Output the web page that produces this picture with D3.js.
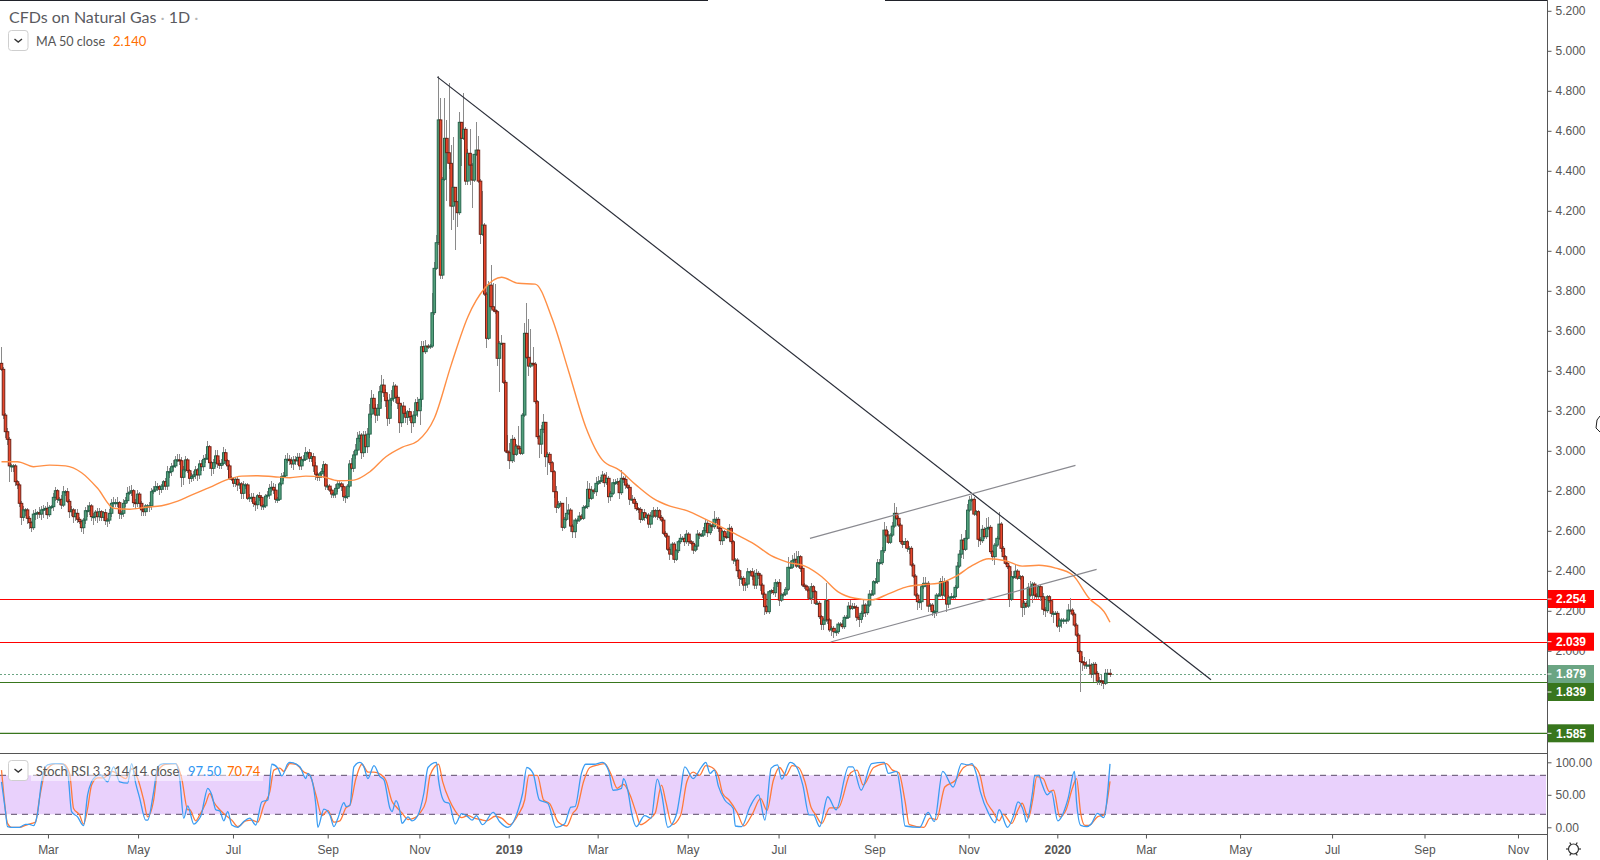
<!DOCTYPE html>
<html><head><meta charset="utf-8">
<style>
html,body{margin:0;padding:0;background:#fff;overflow:hidden}
svg{display:block}
text{font-family:"Liberation Sans",Arial,sans-serif}
.tv{font-family:"Lato","Open Sans",sans-serif}
</style>
<script src="https://cdn.jsdelivr.net/npm/d3@7"></script>
</head><body><svg id="c" width="1600" height="860"></svg>
<script>
// ---------- DATA ----------
const firstOpen = 3.435;
const closesA = [
3.405,3.176,3.093,3.055,2.922,2.922,2.922,2.843,2.827,2.735,
2.665,2.702,2.702,2.660,2.638,2.613,2.681,2.685,2.688,2.681,
2.702,2.705,2.710,2.678,2.715,2.718,2.765,2.798,2.755,2.755,
2.726,2.793,2.793,2.745,2.693,2.702,2.668,2.685,2.655,2.643,
2.613,2.651,2.698,2.698,2.722,2.668,2.668,2.691,2.668,2.693,
2.665,2.688,2.648,2.651,2.685,2.735,2.738,2.738,2.738,2.685,
2.685,2.735,2.748,2.785,2.791,2.798,2.738,2.735,2.781,2.735,
2.702,2.693,2.722,2.722,2.722,2.793,2.801,2.818,2.818,2.805,
2.821,2.843,2.821,2.893,2.893,2.918,2.922,2.952,2.952,2.948,
2.865,2.902,2.952,2.898,2.860,2.868,2.877,2.902,2.877,2.932,
2.918,2.955,2.960,3.018,2.938,2.910,2.938,2.972,2.932,2.925,
2.935,2.988,2.948,2.922,2.860,2.855,2.835,2.855,2.827,2.832,
2.785,2.827,2.827,2.760,2.763,2.765,2.735,2.728,2.773,2.765,
2.722,2.722,2.771,2.776,2.810,2.815,2.801,2.755,2.755,2.832,
2.868,2.872,2.955,2.955,2.948,2.932,2.952,2.948,2.965,2.922,
2.952,2.955,2.988,2.988,2.960,2.968,2.922,2.880,2.865,2.882,
2.893,2.928,2.821,2.821,2.801,2.781,2.781,2.810,2.832,2.832,
2.818,2.768,2.768,2.821,2.932,2.910,2.977,3.001,3.060,3.076,
2.988,3.076,3.018,3.081,3.181,3.260,3.210,3.176,3.210,3.293,
3.326,3.288,3.248,3.160,3.251,3.260,3.321,3.265,3.235,3.138,
3.221,3.185,3.165,3.193,3.168,3.138,3.176,3.238,3.198,3.255];
const upperA = [
8,1,1,2,1,1,1,1,1,1, 1,2,1,1,1,1,2,2,1,3, 2,2,1,3,1,1,2,2,1,1, 2,3,1,2,1,2,1,2,2,1,
1,1,2,3,2,1,2,1,2,2, 1,1,2,1,2,2,3,2,3,1, 1,2,2,3,3,3,1,2,2,1, 1,1,1,1,2,2,2,3,2,1,
1,1,2,3,2,2,3,2,3,3, 2,2,2,1,1,2,2,2,1,2, 2,2,2,3,1,1,2,3,3,2, 2,3,2,1,1,1,1,1,1,1,
1,2,1,1,2,2,2,1,1,2, 1,1,1,2,2,3,2,3,1,1, 2,2,2,3,2,2,2,2,2,2, 2,2,3,1,2,2,2,2,1,1,
2,2,1,1,1,1,1,2,2,2, 1,1,1,1,2,3,2,3,3,2, 1,2,2,3,5,4,2,2,2,3, 5,3,2,2,3,4,2,1,1,2,
1,2,2,1,2,1,2,2,3,3];
const lowerA = [
1,2,3,3,8,3,3,2,2,2, 4,2,3,3,3,2,1,3,3,2, 3,4,3,2,1,1,2,2,2,3, 2,1,2,1,3,2,3,2,2,1,
2,3,2,3,2,2,4,2,3,2, 2,2,2,3,2,2,2,2,2,3, 3,2,2,1,1,2,2,3,2,3, 3,2,2,3,3,2,1,1,2,3,
2,2,2,2,3,2,2,1,1,2, 5,4,1,1,3,2,2,2,3,2, 2,2,2,1,3,4,3,2,2,2, 2,1,2,2,1,1,2,2,3,2,
3,3,2,1,2,2,2,3,2,2, 2,2,1,1,2,2,2,2,2,1, 1,2,1,2,2,2,3,2,2,2, 2,1,1,2,2,2,3,3,2,2,
2,3,2,2,1,2,2,2,2,2, 2,2,3,1,1,1,2,2,2,2, 3,2,3,3,2,2,3,4,3,4, 5,2,3,4,3,3,2,3,3,5,
2,3,3,4,2,5,2,2,3,7];
const closesB = [
3.518,3.493,3.521,3.518,3.521,3.688,3.910,4.038,4.652,3.876,
4.355,4.560,4.488,4.435,4.221,4.315,4.243,4.188,4.640,4.560,
4.605,4.346,4.485,4.426,4.351,4.480,4.501,4.346,4.080,4.126,
3.781,3.560,3.826,3.718,3.701,3.693,3.460,3.535,3.535,3.340,
2.996,2.988,2.948,3.055,2.980,3.021,3.010,2.985,3.176,3.585,
3.465,3.421,3.435,3.431,3.243,3.068,3.031,3.105,3.140,2.968,
2.980,2.938,2.893];
const upperB = [
3,3,3,1,1,10,3,4,22,11, 1,20,9,35,9,25,0,0,5,0, 18,1,2,12,1,0,14,7,1,17,
1,1,2,10,12,13,1,1,4,0, 1,8,5,2,1,1,10,1,1,5, 15,19,17,8,1,1,1,2,4,0, 1,1,1];
const lowerB = [
4,0,1,1,1,1,1,1,1,2, 2,1,24,3,12,7,24,7,1,14, 1,2,2,10,14,1,1,1,5,1,
1,5,1,1,1,1,4,17,1,1, 1,4,4,1,4,1,1,1,1,1, 1,5,1,1,1,1,7,5,2,5, 9,1,4];
const closesC = [
2.793,2.715,2.727,2.735,2.615,2.655,2.685,2.701,2.621,2.593,
2.651,2.651,2.671,2.660,2.715,2.718,2.805,2.760,2.801,2.793,
2.835,2.843,2.848,2.876,2.838,2.860,2.768,2.785,2.838,2.838,
2.843,2.788,2.860,2.855,2.826,2.815,2.755,2.755,2.735,2.708,
2.705,2.655,2.688,2.665,2.676,2.631,2.671,2.698,2.671,2.698,
2.665,2.651,2.585,2.571,2.505,2.481,2.531,2.455,2.498,2.543,
2.560,2.560,2.543,2.581,2.543,2.535,2.501,2.521,2.581,2.576,
2.576,2.598,2.635,2.588,2.626,2.618,2.655,2.655,2.610,2.548,
2.593,2.568,2.565,2.610,2.543,2.451,2.451,2.398,2.360,2.360,
2.326,2.331,2.393,2.393,2.371,2.326,2.385,2.376,2.326,2.281,
2.218,2.193,2.293,2.298,2.288,2.338,2.338,2.251,2.276,2.281,
2.305,2.415,2.415,2.448,2.455,2.421,2.468,2.410,2.326,2.318,
2.301,2.260,2.318,2.293,2.235,2.235,2.168,2.130,2.151,2.248];
const upperC = [
1,3,2,1,0,1,8,3,1,1, 1,1,2,1,1,1,4,3,2,1, 3,3,2,2,1,3,1,1,2,2, 2,1,4,1,2,1,1,2,1,1,
1,1,2,2,1,1,2,2,1,2, 1,1,1,1,1,1,1,1,1,1, 2,1,2,2,1,1,1,1,2,1, 1,2,2,1,1,1,4,1,1,1,
1,1,2,2,1,1,1,1,1,1, 1,1,2,1,2,3,2,1,1,1, 1,1,1,1,2,2,1,2,1,1, 1,5,3,3,3,4,3,1,1,1,
1,1,2,1,1,1,1,1,1,9];
const lowerC = [
3,3,1,1,2,1,1,1,3,3, 3,2,1,1,1,1,1,2,1,1, 2,1,1,1,2,1,3,2,1,1, 1,3,1,2,2,1,3,2,2,1,
2,2,1,2,1,2,2,1,1,2, 1,1,1,1,1,3,1,2,1,1, 1,1,2,1,2,1,2,1,2,2, 1,1,1,2,1,2,1,2,2,2,
2,2,1,2,1,2,3,3,4,3, 3,3,2,2,2,2,2,2,3,2, 4,1,1,1,1,2,2,3,1,1, 1,1,1,1,1,1,1,2,1,1,
1,1,3,3,1,1,1,3,3,1];
const closesD = [
2.152,2.102,2.110,2.093,2.093,2.131,2.131,2.118,2.165,2.165,
2.221,2.210,2.218,2.215,2.165,2.155,2.185,2.226,2.188,2.226,
2.281,2.281,2.343,2.343,2.438,2.438,2.498,2.601,2.576,2.540,
2.576,2.621,2.685,2.660,2.626,2.543,2.530,2.543,2.510,2.510,
2.426,2.371,2.276,2.243,2.243,2.318,2.335,2.335,2.221,2.226,
2.193,2.193,2.276,2.276,2.343,2.276,2.343,2.231,2.265,2.268,
2.268,2.315,2.421,2.481,2.551,2.505,2.560,2.701,2.751,2.755,
2.681,2.693,2.555,2.548,2.605,2.568,2.610,2.615,2.493,2.468,
2.526,2.560,2.631,2.510,2.468,2.435,2.418,2.255,2.368,2.368,
2.396,2.360,2.368,2.215,2.235,2.221,2.315,2.276,2.331,2.276,
2.268,2.318,2.268,2.205,2.198,2.268,2.248,2.185,2.185,2.185,
2.121,2.151,2.151,2.151,2.151,2.201,2.201,2.181,2.126,2.076,
1.993,1.943,1.938,1.926,1.926,1.926,1.881,1.930,1.885,1.846,
1.848,1.843,1.835,1.885,1.885,1.879];
const upperD = [
1,1,1,1,1,1,1,2,1,1, 2,3,2,2,1,1,1,3,1,2, 2,2,1,2,2,2,2,4,2,2, 1,2,5,3,1,1,1,2,1,1,
1,1,1,1,1,1,3,3,1,1, 1,1,1,1,2,3,2,1,1,2, 1,1,2,2,3,1,4,3,2,2, 1,1,1,1,2,1,5,5,1,1,
1,1,6,1,1,1,1,1,3,3, 3,1,1,1,1,1,2,3,1,1, 1,1,1,2,1,1,1,1,1,1, 1,1,1,1,1,3,6,1,1,1,
1,1,3,3,2,3,1,1,1,1, 2,3,1,2,2,2];
const lowerD = [
2,1,3,3,2,1,1,1,1,1, 1,1,1,1,2,4,2,2,2,1, 1,1,1,1,1,1,1,1,1,1, 1,1,1,1,1,1,2,2,2,3,
1,1,1,4,3,4,1,2,3,2, 2,3,2,1,1,2,1,4,2,1, 1,1,1,1,2,5,1,1,1,1, 1,1,4,2,1,1,1,1,1,2,
4,1,1,2,2,1,1,4,1,1, 1,1,1,5,4,1,1,1,4,2, 1,1,2,3,3,1,1,2,5,1, 1,3,4,2,2,1,1,1,1,1,
1,15,4,2,2,2,2,4,1,2, 2,2,3,1,1,1];

const barKnots = [0,209,210,272,273,402,403,538];
const pixelKnots = [1.5,420,421.7,552,554,826,827.7,1110];

const maValues = [
2.943,2.943,2.918,2.926,2.922,2.888,2.810,2.710,2.705,2.715,2.723,2.746,2.781,2.815,2.851,2.871,2.873,2.868,2.863,2.871,2.868,2.848,2.851,2.893,2.968,3.015,3.048,
3.160,3.426,3.668,3.810,3.865,3.835,3.831,3.660,3.393,3.118,2.951,2.901,2.826,2.760,2.721,2.698,2.660,2.618,2.576,2.531,2.473,2.440,2.421,2.368,
2.292,2.260,2.252,2.282,2.315,2.328,2.335,2.368,2.423,2.458,2.448,2.421,2.425,2.411,2.378,2.260,2.180,2.140];
const maBars = [0,8,16,24,32,40,48,56,64,72,80,88,96,104,112,120,128,136,144,152,160,168,176,184,192,200,208,216,224,232,240,248,256,264,272,280,288,296,304,312,320,328,336,344,352,360,368,376,384,392,400,408,416,424,432,440,448,456,464,472,480,488,496,504,512,520,528,536,538];

const stochKBars = [0,2,3,5,9,12,14,16,18,20,23,27,30,33,35,38,41,43,45,47,49,53,56,59,63,65,67,69,72,73,76,78,81,87,89,91,93,96,98,100,101,103,105,107,109,111,113,115,118,121,124,127,130,133,135,138,140,143,
144,149,152,153,155,157,158,161,164,166,168,171,172,174,176,179,181,183,186,189,191,194,195,197,199,200,203,205,208,211,213,217,218,221,223,226,229,232,234,236,239,244,247,251,256,258,260,263,266,270,274,278,281,283,286,288,292,296,299,301,305,306,308,310,312,316,319,322,324,327,331,333,335,339,343,345,347,349,351,354,358,359,362,366,370,373,376,379,381,385,388,391,394,396,399,403,407,413,415,419,424,430,432,436,438,440,447,451,454,458,463,467,470,472,474,476,480,483,485,489,492,494,497,498,501,502,504,505,508,510,513,517,518,521,522,524,527,529,532,535,538];
const stochK = [70,24,1,0,0,4.6,4.6,2.5,21.5,70,96,98,98,86,24,16,2.5,50,70,78,81.5,70,93,70,68,98,68,45,11,11,55,93,98,98,75,14,33,5,10,21.5,37,60,50,27,25,10,24,3.5,0,9,14,3.5,39,42,97,91,79,98,
100,93,75,83,73,34,0,28,19,1,14,38,32,34,93,100,93,75,95,78,73,29,24,41,24,6,16,10,19,52,92,100,73,39,37,5,21,16,11,18,4,23,9,0,28,52,92,83,42,37,0,5,31,32,83,97,97,100,86,57,60,75,57,19,1,18,14,74,52,0,19,55,93,75,93,100,83,88,63,42,29,2,1,32,50,11,91,96,74,100,93,65,19,19,1,47,27,93,93,57,98,100,83,86,52,2,0,23,9,86,62,98,96,98,83,55,21,7,27,0,19,39,21,8,55,79,80,71,50,55,10,34,45,86,39,3,1,5,21.5,15,97.5];
const stochDBars = [0,1,3,5,9,12,15,17,19,22,27,31,34,36,39,41,43,45,48,51,55,59,62,65,68,71,73,76,78,82,87,90,93,94,97,99,102,104,106,109,111,115,118,122,125,128,131,134,136,139,141,144,
147,151,154,157,160,163,166,169,172,174,177,180,183,186,189,192,195,197,200,203,206,209,212,214,218,220,223,226,229,232,235,238,241,245,248,252,256,259,261,265,268,271,275,279,282,284,287,290,294,297,300,303,306,309,312,314,318,321,324,326,329,333,336,339,342,345,348,351,353,356,360,363,367,371,374,377,380,383,386,389,392,395,397,400,404,408,414,417,420,425,431,434,437,440,442,449,452,455,459,464,468,471,473,476,478,482,485,487,491,494,496,499,501,503,506,509,511,514,517,520,522,524,526,528,532,535,538];
const stochD = [88,55,6,0,0,3,6,8,45,86,98,97,83,29,19,5,29,65,76,76,86,80,75,90,75,42,16,42,86,97,98,75,27,27,10,19,37,52,39,27,21,11,1,10,11,8,34,55,88,91,86,98,
97,85,80,50,18,26,8,10,30,34,75,97,85,85,82,72,40,32,22,12,14,22,40,80,97,70,43,25,15,18,14,12,10,17,14,4,20,42,80,80,42,36,8,2,22,30,70,92,96,98,82,60,66,50,22,4,12,22,65,40,4,18,70,85,80,95,92,78,52,42,22,2,20,44,26,72,92,80,95,92,70,30,20,6,30,30,84,88,65,92,98,88,84,40,4,0,14,12,62,72,92,96,94,78,48,24,10,20,6,27,37,14,42,78,75,55,57,16,27,60,75,21,3,3,16,19,70.74];
const stochLast = ["97.50","70.74"];

const priceTicks = [5.2,5.0,4.8,4.6,4.4,4.2,4.0,3.8,3.6,3.4,3.2,3.0,2.8,2.6,2.4,2.2,2.0];
const stochTicks = [100,50,0];
const monthLabels = ["Mar","May","Jul","Sep","Nov","2019","Mar","May","Jul","Sep","Nov","2020","Mar","May","Jul","Sep","Nov"];
const monthBars = [23.2,68.2,115.6,162.9,208.7,251.4,293.7,336.4,379.5,425.4,470.4,512.8,555.2,600.2,644.2,688.4,733.1];

const levelPrices = [2.254,2.039,1.839,1.585];
const levelColors = ["#ff0000","#ff0000","#38761d","#38761d"];
const lastPrice = 1.879;
const levelLabelCenters = [599,641.7,692,733.3];   // axis badge centres
const trendBars = [[217.4,586.3],[394.4,521.5],[404.4,531.6]];
const trendPrices = [[4.867,1.853],[2.56,2.925],[2.0415,2.405]];
const trendColors = ["#2a2e39","#8a8a90","#8a8a90"];

// ---------- SCALES ----------
const closes = [...closesA,...closesB,...closesC,...closesD];
const uppers = [...upperA,...upperB,...upperC,...upperD];
const lowers = [...lowerA,...lowerB,...lowerC,...lowerD];
const opens = closes.map((c,i)=> i? closes[i-1] : firstOpen);
const barIdx = d3.range(closes.length);

const axisX = 1547.5;
const x = d3.scaleLinear().domain(barKnots).range(pixelKnots);
const y = d3.scaleLinear().domain([5.2,1.585]).range([10.3,733.3]);
const yS = d3.scaleLinear().domain([100,0]).range([762.3,827.3]);

const svg = d3.select("#c");
const plot = svg.append("g");

// top frame bar
[[0,708],[885,axisX]].forEach(s=>svg.append("line").attr("x1",s[0]).attr("x2",s[1]).attr("y1",0.5).attr("y2",0.5).attr("stroke","#20222a"));

// horizontal levels
plot.selectAll("line.lvl").data(levelPrices).join("line").attr("class","lvl")
 .attr("x1",0).attr("x2",axisX).attr("y1",d=>y(d)).attr("y2",d=>y(d))
 .attr("stroke",(d,i)=>levelColors[i]).attr("stroke-width",1.2);
plot.append("line").attr("x1",0).attr("x2",axisX).attr("y1",y(lastPrice)).attr("y2",y(lastPrice))
 .attr("stroke","#6ba583").attr("stroke-dasharray","2 2");

// wicks
plot.selectAll("line.w").data(barIdx).join("line").attr("class","w")
 .attr("x1",i=>x(i)).attr("x2",i=>x(i))
 .attr("y1",i=>y(Math.max(opens[i],closes[i])+uppers[i]/100))
 .attr("y2",i=>y(Math.min(opens[i],closes[i])-lowers[i]/100))
 .attr("stroke","#8a8a8a").attr("stroke-width",1).attr("shape-rendering","crispEdges");
// bodies
plot.selectAll("rect.b").data(barIdx).join("rect").attr("class","b")
 .attr("x",i=>x(i)-1.3).attr("width",2.6)
 .attr("y",i=>y(Math.max(opens[i],closes[i])))
 .attr("height",i=>Math.max(1,Math.abs(y(opens[i])-y(closes[i]))))
 .attr("fill",i=>closes[i]>=opens[i]?"#52a07b":"#e8472d")
 .attr("stroke",i=>closes[i]>=opens[i]?"#215f48":"#651b10")
 .attr("stroke-width",0.9);

// MA
const maLine = d3.line().x(d=>x(d[0])).y(d=>y(d[1])).curve(d3.curveMonotoneX);
plot.append("path").attr("d",maLine(maBars.map((b,i)=>[b,maValues[i]])))
 .attr("fill","none").attr("stroke","#ff8f45").attr("stroke-width",1.4);

// trend lines
plot.selectAll("line.tr").data(trendBars).join("line").attr("class","tr")
 .attr("x1",d=>x(d[0])).attr("x2",d=>x(d[1]))
 .attr("y1",(d,i)=>y(trendPrices[i][0])).attr("y2",(d,i)=>y(trendPrices[i][1]))
 .attr("stroke",(d,i)=>trendColors[i]).attr("stroke-width",1.2);

// stoch panel
const band = svg.append("g");
band.append("rect").attr("x",0).attr("width",1546).attr("y",yS(80)).attr("height",yS(20)-yS(80)).attr("fill","#e9d1fc");
[80,20].forEach(v=>band.append("line").attr("x1",0).attr("x2",1546).attr("y1",yS(v)).attr("y2",yS(v))
 .attr("stroke","#5b4a68").attr("stroke-dasharray","6 5").attr("stroke-width",1));
const sLine = d3.line().x(d=>x(d[0])).y(d=>yS(d[1])).curve(d3.curveMonotoneX);
band.append("path").attr("d",sLine(stochDBars.map((b,i)=>[b,stochD[i]]))).attr("fill","none").attr("stroke","#ff7a3a").attr("stroke-width",1.3);
band.append("path").attr("d",sLine(stochKBars.map((b,i)=>[b,stochK[i]]))).attr("fill","none").attr("stroke","#3a9cf2").attr("stroke-width",1.3);

// panel separators
[753.5,834.5].forEach(v=>svg.append("line").attr("x1",0).attr("x2",axisX).attr("y1",v).attr("y2",v).attr("stroke","#555"));

// axes
const styleAxis = g=>{
  g.selectAll(".domain").remove();
  g.selectAll(".tick line").attr("stroke","#555");
  g.selectAll("text").attr("fill","#555").attr("font-size",12).attr("font-family",'"Liberation Sans",Arial,sans-serif');
};
svg.append("g").attr("transform",`translate(${axisX},0.5)`)
 .call(d3.axisRight(y).tickValues(priceTicks).tickFormat(d3.format(".3f")).tickSize(4).tickPadding(4)).call(styleAxis);
svg.append("g").attr("transform",`translate(${axisX},0)`)
 .call(d3.axisRight(yS).tickValues(stochTicks).tickFormat(d3.format(".2f")).tickSize(4).tickPadding(4)).call(styleAxis);
svg.append("g").attr("transform","translate(0,834.5)")
 .call(d3.axisBottom(x).tickValues(monthBars).tickFormat((d,i)=>monthLabels[i]).tickSize(4).tickPadding(7)).call(styleAxis)
 .selectAll("text").attr("font-weight",(d,i)=>/^20/.test(monthLabels[i])?"bold":"normal");
svg.append("line").attr("x1",axisX).attr("x2",axisX).attr("y1",0).attr("y2",860).attr("stroke","#555");

// price badges
const badge = (cy,txt,col)=>{
  svg.append("rect").attr("x",axisX+0.5).attr("y",cy-9).attr("width",46).attr("height",18).attr("fill",col);
  svg.append("line").attr("x1",axisX).attr("x2",axisX+4).attr("y1",cy).attr("y2",cy).attr("stroke","#fff");
  svg.append("text").attr("x",axisX+8.5).attr("y",cy+4.3).attr("fill","#fff").attr("font-size",12).attr("font-weight","bold").text(txt);
};
levelPrices.forEach((p,i)=>badge(levelLabelCenters[i],p.toFixed(3),levelColors[i]));
badge(674,lastPrice.toFixed(3),"#6ba583");

// legends
const title = svg.append("text").attr("class","tv").attr("x",9).attr("y",23).attr("font-size",16).attr("fill","#5a5a5f");
title.append("tspan").text("CFDs on Natural Gas ");
title.append("tspan").attr("fill","#b5b5b5").text("· ");
title.append("tspan").text("1D ");
title.append("tspan").attr("fill","#b5b5b5").text("·");

const button = (by)=>{
  svg.append("rect").attr("x",8.5).attr("y",by).attr("width",19.5).attr("height",20).attr("rx",3).attr("fill","#fff").attr("stroke","#cfcfcf");
  svg.append("path").attr("d",`M14.5 ${by+8.5} L18.2 ${by+11.5} L22 ${by+8.5}`).attr("fill","none").attr("stroke","#333").attr("stroke-width",1.4);
};
button(30.5);
svg.append("text").attr("class","tv").attr("x",36).attr("y",46).attr("font-size",12.6).attr("fill","#555").text("MA 50 close");
svg.append("text").attr("class","tv").attr("x",113).attr("y",46).attr("font-size",13).attr("fill","#ff6d00").text(maValues[maValues.length-1].toFixed(3));

svg.append("rect").attr("x",31).attr("y",761).attr("width",232).attr("height",20).attr("fill","#fff").attr("opacity",0.5);
button(760.5);
svg.append("text").attr("class","tv").attr("x",36).attr("y",775.5).attr("font-size",12.8).attr("fill","#555").text("Stoch RSI 3 3 14 14 close");
svg.append("text").attr("class","tv").attr("x",188).attr("y",775.5).attr("font-size",13).attr("fill","#2f96f3").text(stochLast[0]);
svg.append("text").attr("class","tv").attr("x",227).attr("y",775.5).attr("font-size",13).attr("fill","#ff6d00").text(stochLast[1]);

// gear icon
const gear = svg.append("g").attr("transform","translate(1573.5,849)").attr("fill","none").attr("stroke","#333").attr("stroke-width",1.2);
gear.append("circle").attr("r",5);
d3.range(0,360,60).forEach(a=>{
  const r=a*Math.PI/180;
  gear.append("line").attr("x1",5*Math.cos(r)).attr("y1",5*Math.sin(r)).attr("x2",7.5*Math.cos(r)).attr("y2",7.5*Math.sin(r));
});
// cursor sliver at the right edge
svg.append("path").attr("d","M1600 416 L1597 420 L1596 428 L1600 432").attr("fill","#fff").attr("stroke","#222");
</script></body></html>
